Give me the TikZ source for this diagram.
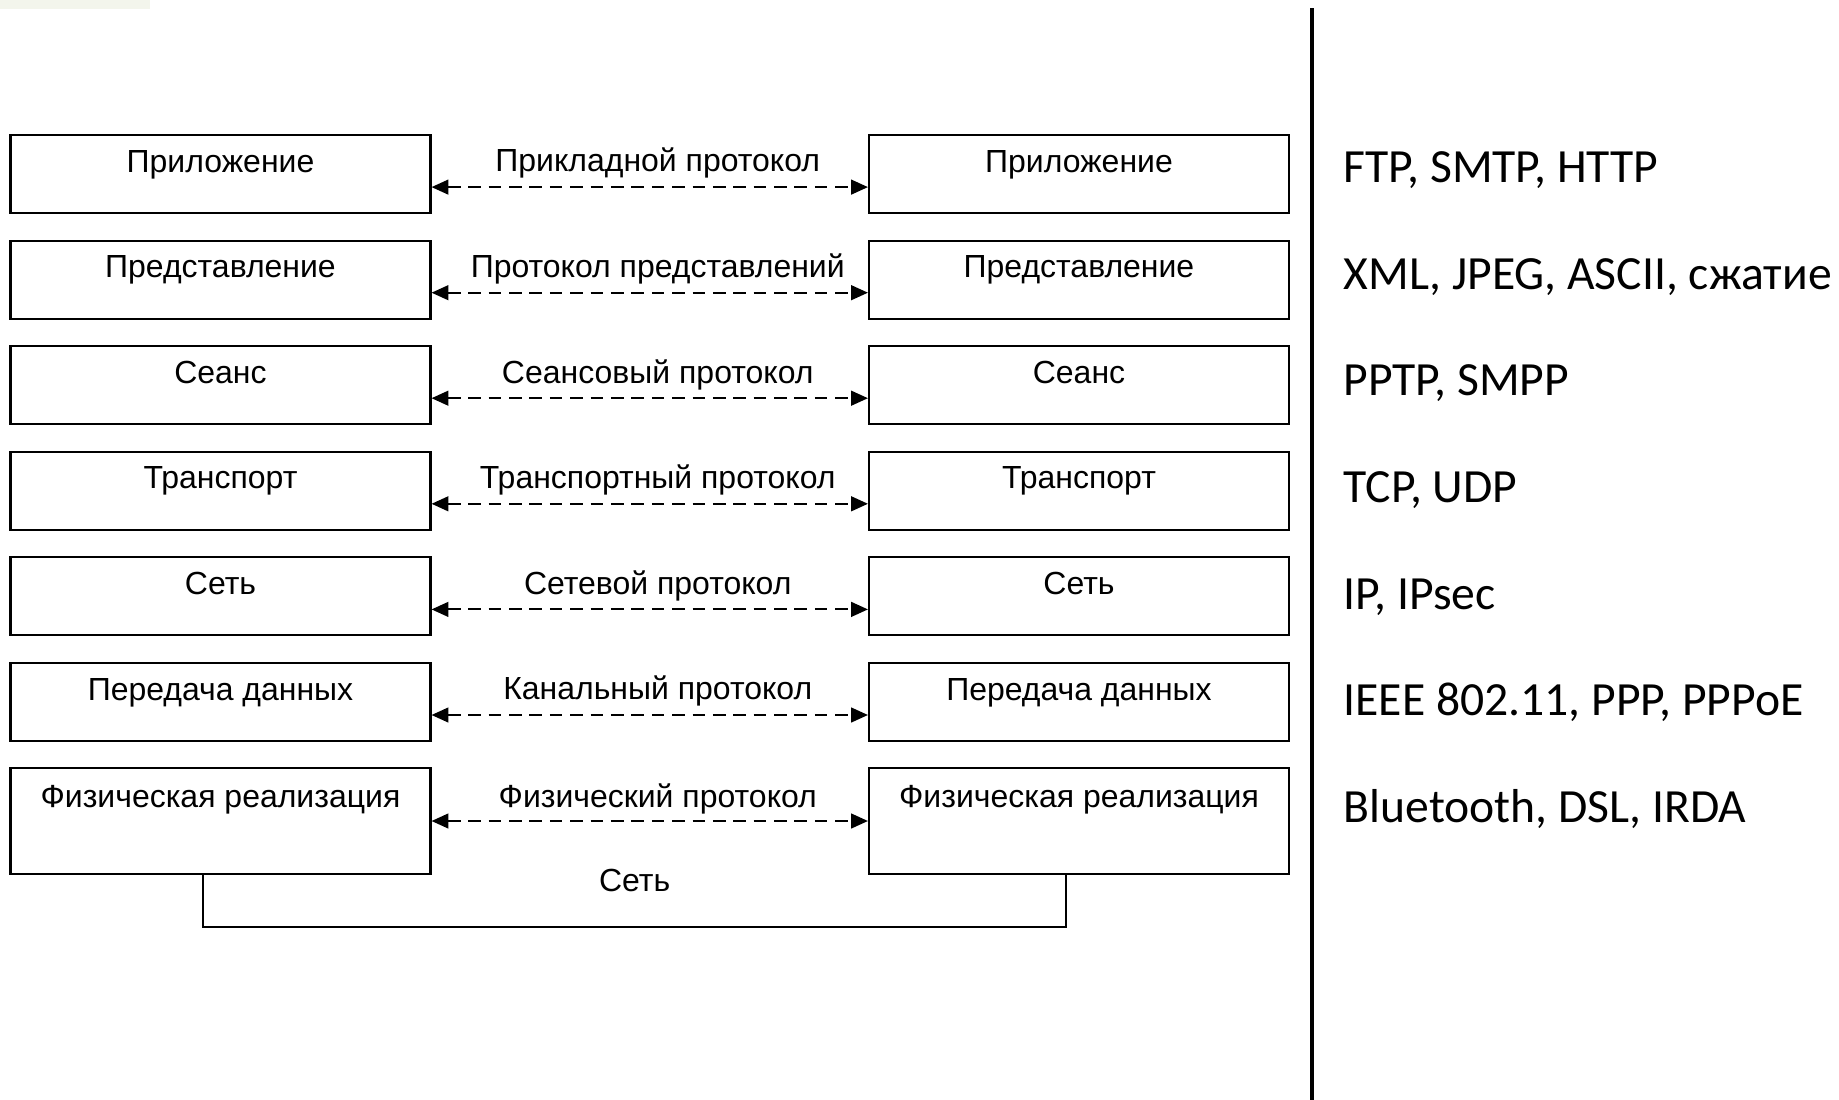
\documentclass[tikz,border=0pt]{standalone}
\usepackage{fontspec}
\setmainfont{Liberation Sans}
\newfontfamily\calfont{Carlito}
\usetikzlibrary{arrows.meta}
\definecolor{boxline}{HTML}{000000}
\definecolor{topbar}{HTML}{F3F5EC}
\definecolor{textpri}{HTML}{000000}
\tikzset{
  layer/.style={draw=boxline, line width=0.6pt, minimum width=4.2cm, inner xsep=0pt, inner ysep=0pt,
                text height=10.6pt, text depth=11.6pt, text=textpri, font=\fontsize{9.1}{11}\selectfont},
  layertall/.style={layer, text height=11.2pt, text depth=18.8pt},
  peer/.style={draw=boxline, line width=0.6pt, dash pattern=on 3.6pt off 2.2pt,
               {Triangle[length=4.8pt,width=4.2pt]}-{Triangle[length=4.8pt,width=4.2pt]}},
  peerlabel/.style={anchor=base, inner sep=0pt, text=textpri, font=\fontsize{9.1}{11}\selectfont},
  netline/.style={draw=boxline, line width=0.6pt},
  sepline/.style={draw=boxline, line width=1pt},
  stacktext/.style={anchor=base west, inner sep=0pt, text=textpri, font=\calfont\fontsize{13.55}{16}\selectfont},
}

\begin{document}
\begin{tikzpicture}
  \useasboundingbox (0,0) rectangle (18.39,-11.00);
  \fill[topbar] (0,0) rectangle (1.50,-0.095);

  % --- L7 application ---
  \node[layer] (appL) at (2.205,-1.740) {Приложение};
  \node[layer] (appR) at (10.79,-1.740) {Приложение};
  \draw[peer] ([yshift=-0.131cm]appL.east) -- ([yshift=-0.131cm]appR.west)
    node[peerlabel, midway, xshift=0.08cm, yshift=0.152cm] {Прикладной протокол};
  \node[stacktext] (appP) at (13.43,-1.825) {FTP, SMTP, HTTP};

  % --- L6 presentation ---
  \node[layer] (preL) at (2.205,-2.796) {Представление};
  \node[layer] (preR) at (10.79,-2.796) {Представление};
  \draw[peer] ([yshift=-0.131cm]preL.east) -- ([yshift=-0.131cm]preR.west)
    node[peerlabel, midway, xshift=0.08cm, yshift=0.152cm] {Протокол представлений};
  \node[stacktext] (preP) at (13.43,-2.892) {XML, JPEG, ASCII, сжатие};

  % --- L5 session ---
  \node[layer] (sesL) at (2.205,-3.851) {Сеанс};
  \node[layer] (sesR) at (10.79,-3.851) {Сеанс};
  \draw[peer] ([yshift=-0.131cm]sesL.east) -- ([yshift=-0.131cm]sesR.west)
    node[peerlabel, midway, xshift=0.08cm, yshift=0.152cm] {Сеансовый протокол};
  \node[stacktext] (sesP) at (13.43,-3.958) {PPTP, SMPP};

  % --- L4 transport ---
  \node[layer] (traL) at (2.205,-4.907) {Транспорт};
  \node[layer] (traR) at (10.79,-4.907) {Транспорт};
  \draw[peer] ([yshift=-0.131cm]traL.east) -- ([yshift=-0.131cm]traR.west)
    node[peerlabel, midway, xshift=0.08cm, yshift=0.152cm] {Транспортный протокол};
  \node[stacktext] (traP) at (13.43,-5.025) {TCP, UDP};

  % --- L3 network ---
  \node[layer] (netL) at (2.205,-5.963) {Сеть};
  \node[layer] (netR) at (10.79,-5.963) {Сеть};
  \draw[peer] ([yshift=-0.131cm]netL.east) -- ([yshift=-0.131cm]netR.west)
    node[peerlabel, midway, xshift=0.08cm, yshift=0.152cm] {Сетевой протокол};
  \node[stacktext] (netP) at (13.43,-6.092) {IP, IPsec};

  % --- L2 data link ---
  \node[layer] (lnkL) at (2.205,-7.019) {Передача данных};
  \node[layer] (lnkR) at (10.79,-7.019) {Передача данных};
  \draw[peer] ([yshift=-0.131cm]lnkL.east) -- ([yshift=-0.131cm]lnkR.west)
    node[peerlabel, midway, xshift=0.08cm, yshift=0.152cm] {Канальный протокол};
  \node[stacktext] (lnkP) at (13.43,-7.158) {IEEE 802.11, PPP, PPPoE};

  % --- L1 physical ---
  \node[layertall] (phyL) at (2.205,-8.210) {Физическая реализация};
  \node[layertall] (phyR) at (10.79,-8.210) {Физическая реализация};
  \draw[peer] (phyL.east) -- (phyR.west)
    node[peerlabel, midway, xshift=0.08cm, yshift=0.135cm] {Физический протокол};
  \node[stacktext] (phyP) at (13.43,-8.225) {Bluetooth, DSL, IRDA};

  % --- medium between the two stacks ---
  \draw[netline] ([xshift=-0.175cm]phyL.south) -- ++(0,-0.523) -| ([xshift=-0.127cm]phyR.south);
  \node[peerlabel] (medium) at (6.347,-8.917) {Сеть};

  % --- separator ---
  \draw[sepline] (13.12,-0.083) -- (13.12,-11.00);
\end{tikzpicture}
\end{document}
